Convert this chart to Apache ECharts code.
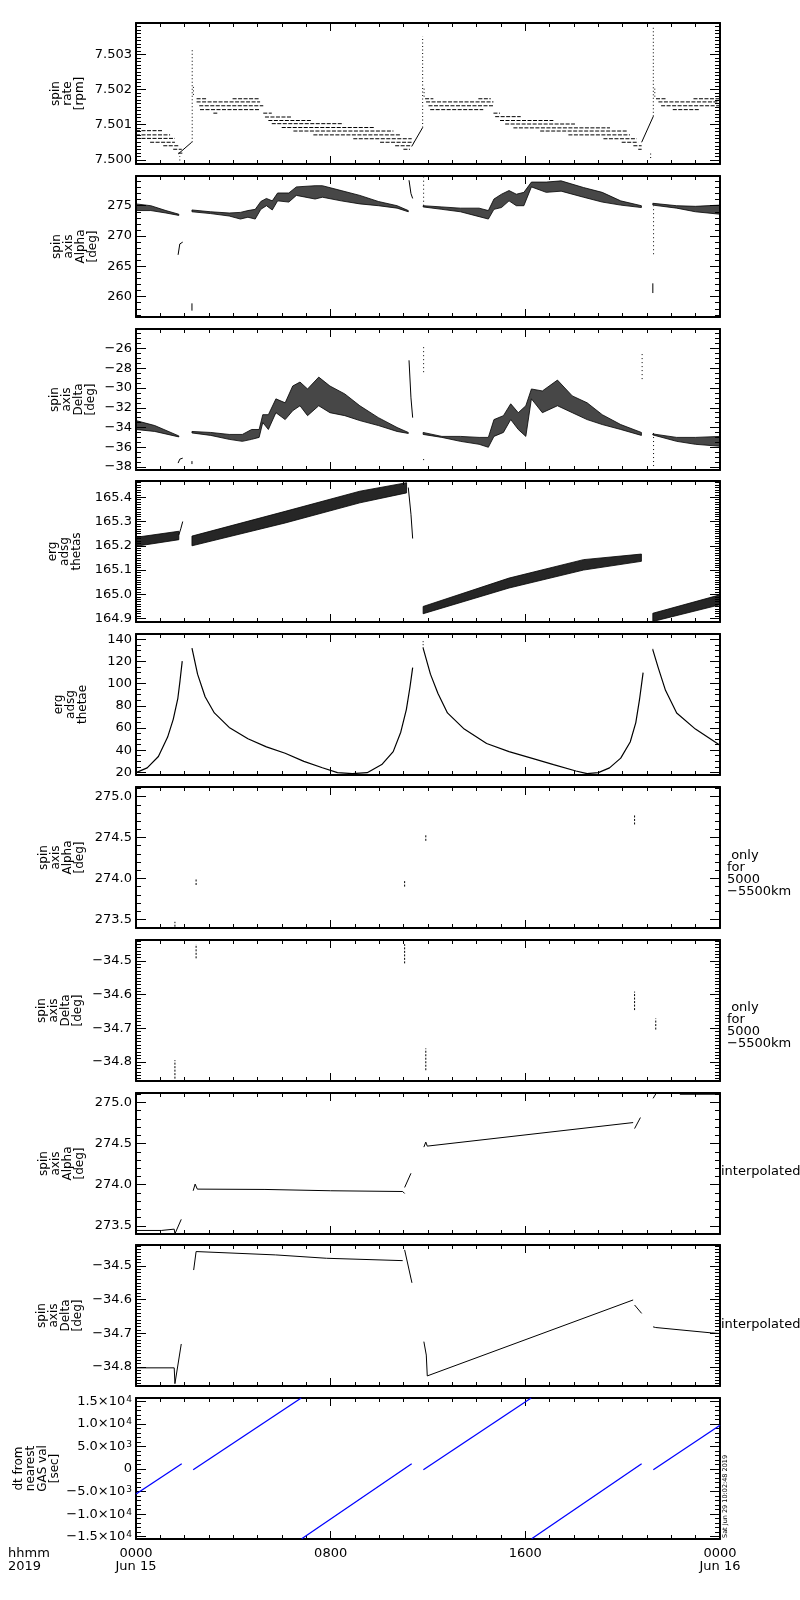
<!DOCTYPE html>
<html>
<head>
<meta charset="utf-8">
<title>ERG spin axis, 2019 Jun 15</title>
<script src="https://cdn.jsdelivr.net/npm/echarts@6.0.0/dist/echarts.min.js"></script>
<style>
    html, body { margin: 0; padding: 0; background: #fff; }
    #chart { width: 800px; height: 1600px; }
</style>
</head>
<body>
<div id="chart"></div>
<script>
const FONT = 'DejaVu Sans';

// x axis: hours since 2019-06-15 00:00
const hourTicks = [0, 8, 16, 24];
const hourLabels = ['0000\nJun 15', '0800', '1600', '0000\nJun 16'];

// panel 1: spin rate [rpm], quantised levels [hourFrom, hourTo, value]
const rateDashes = [
    [0, 1.12, 7.50083], [0, 1.40, 7.50071], [0, 1.60, 7.50061], [0.58, 1.60, 7.5005],
    [1.12, 1.74, 7.5004], [1.53, 1.88, 7.5003], [1.74, 1.92, 7.50019],
    [2.49, 2.88, 7.50174], [3.97, 5.10, 7.50174], [2.49, 5.10, 7.50165], [2.60, 5.23, 7.50154],
    [2.63, 5.10, 7.50143], [3.18, 3.34, 7.50133], [5.23, 5.58, 7.50133], [5.30, 6.40, 7.50122],
    [5.44, 7.22, 7.50112], [5.58, 8.52, 7.50103], [5.99, 9.82, 7.50092], [6.47, 10.58, 7.50082],
    [7.29, 10.85, 7.50071], [8.93, 11.33, 7.5006], [10.03, 11.40, 7.5005], [10.65, 11.33, 7.5004],
    [10.99, 11.26, 7.5003],
    [11.88, 12.22, 7.50174], [14.07, 14.58, 7.50174], [11.92, 14.69, 7.50165], [12.02, 14.69, 7.50154],
    [12.09, 14.27, 7.50143], [14.69, 14.96, 7.50133], [14.76, 15.81, 7.50123], [14.96, 17.15, 7.50112],
    [15.17, 18.04, 7.50102], [15.51, 19.48, 7.50091], [16.61, 20.17, 7.50082], [17.77, 20.30, 7.50071],
    [19.21, 20.58, 7.5006], [19.96, 20.64, 7.5005], [20.44, 20.78, 7.5004], [20.64, 20.78, 7.5003],
    [21.37, 21.81, 7.50174], [22.91, 24, 7.50174], [21.47, 24, 7.50165], [21.58, 24, 7.50154],
    [22.06, 23.18, 7.50143]
];
const rateRamps = [
    [[1.74, 7.50017], [2.29, 7.5005]],
    [[11.33, 7.50038], [11.78, 7.50092]],
    [[20.78, 7.5005], [21.26, 7.50124]]
];
const rateSpikes = [
    [1.80, 7.49998, 1.80, 7.5001], [2.31, 7.5005, 2.31, 7.50319], [2.36, 7.50185, 2.36, 7.50215],
    [11.78, 7.50092, 11.78, 7.50352], [11.84, 7.5018, 11.84, 7.5021],
    [21.15, 7.50005, 21.15, 7.5002], [21.26, 7.50124, 21.26, 7.50381], [21.32, 7.5018, 21.32, 7.5021]
];

// panel 2: spin axis alpha [deg], scatter bands [hour, low, high]
const alphaBandA = [[0, 274.2, 275.3], [0.61, 274.2, 275.0], [1.23, 273.8, 274.2], [1.76, 273.4, 273.6]];
const alphaBandB = [
    [2.3, 274.0, 274.3], [3.07, 273.7, 274.0], [3.83, 273.3, 273.8], [4.29, 272.8, 273.9],
    [4.6, 273.1, 274.2], [4.9, 272.8, 274.4], [5.13, 274.4, 275.7], [5.36, 275.0, 276.2],
    [5.6, 274.3, 275.8], [5.82, 275.8, 277.1], [6.28, 275.6, 277.1], [6.59, 276.7, 278.1],
    [7.36, 276.1, 278.3], [7.66, 276.4, 278.3], [8.43, 275.8, 277.5], [9.2, 275.3, 276.7],
    [9.96, 275.0, 275.7], [10.73, 274.6, 275.0], [11.19, 274.0, 274.2]
];
const alphaBandC = [
    [11.8, 274.8, 275.0], [12.57, 274.4, 274.8], [13.33, 274.0, 274.6], [14.1, 273.2, 274.6],
    [14.48, 272.8, 274.2], [14.71, 274.4, 276.1], [15.02, 274.7, 276.9], [15.33, 275.8, 277.5],
    [15.63, 275.0, 276.9], [15.94, 275.0, 277.2], [16.25, 278.1, 278.9], [16.86, 277.2, 278.9],
    [17.47, 277.4, 279.1], [18.39, 276.4, 278.0], [19.16, 275.6, 277.2], [19.92, 275.1, 275.8],
    [20.77, 274.7, 275.0]
];
const alphaBandD = [[21.24, 275.1, 275.4], [22.22, 274.6, 275.0], [22.99, 274.0, 274.9], [24, 273.6, 275.1]];
const alphaLines = [
    [[1.73, 266.9], [1.8, 268.7], [1.92, 269.0]],
    [[11.22, 279.2], [11.3, 277.0], [11.37, 276.2]]
];
const alphaSegs = [[2.3, 257.7, 2.3, 258.9], [21.24, 260.6, 21.24, 262.2]];
const alphaDots = [[11.82, 275.0, 11.82, 279.7], [21.27, 267.0, 21.27, 275.0]];

// panel 3: spin axis delta [deg]
const deltaBandA = [[0, -34.2, -33.3], [0.77, -34.4, -33.8], [1.76, -34.95, -34.85]];
const deltaBandB = [
    [2.3, -34.55, -34.4], [3.07, -34.8, -34.5], [3.83, -35.2, -34.7], [4.37, -35.4, -34.7],
    [4.75, -35.2, -34.2], [5.06, -35.0, -34.2], [5.21, -33.5, -32.7], [5.44, -34.2, -32.7],
    [5.75, -32.5, -31.1], [6.13, -33.2, -31.5], [6.44, -32.3, -29.8], [6.74, -31.8, -29.4],
    [7.05, -32.8, -30.1], [7.51, -31.8, -28.9], [7.97, -32.5, -29.8], [8.58, -32.8, -30.6],
    [9.2, -33.3, -31.8], [9.96, -33.8, -33.0], [10.73, -34.4, -34.0], [11.19, -34.6, -34.5]
];
const deltaBandC = [
    [11.8, -34.7, -34.5], [12.57, -35.0, -34.9], [13.33, -35.4, -34.9], [14.1, -35.7, -35.0],
    [14.48, -36.0, -35.0], [14.71, -34.9, -33.2], [15.1, -34.5, -32.8], [15.4, -33.2, -31.6],
    [15.71, -34.2, -32.5], [16.02, -34.9, -31.8], [16.25, -31.1, -30.1], [16.7, -32.5, -30.3],
    [17.32, -31.8, -29.2], [17.93, -32.5, -30.8], [18.54, -33.2, -31.5], [19.16, -33.7, -32.7],
    [19.92, -34.2, -33.7], [20.77, -34.8, -34.5]
];
const deltaBandD = [[21.24, -34.75, -34.65], [22.22, -35.4, -35.0], [22.99, -35.7, -35.0], [24, -35.9, -34.9]];
const deltaLines = [
    [[1.73, -37.6], [1.8, -37.2], [1.92, -37.1]],
    [[11.22, -27.2], [11.3, -31.0], [11.37, -33.0]]
];
const deltaSegs = [[2.3, -37.7, 2.3, -37.4]];
const deltaDots = [
    [11.82, -28.4, 11.82, -25.8], [11.82, -37.3, 11.82, -37.0],
    [20.8, -29.1, 20.8, -26.3], [21.27, -37.9, 21.27, -34.5]
];

// panel 4: erg adsg thetas
const thetasBandA = [[0, 165.198, 165.235], [1.76, 165.225, 165.26]];
const thetasBandB = [[2.3, 165.2, 165.24], [6.13, 165.294, 165.342], [9.2, 165.377, 165.425], [11.12, 165.418, 165.46]];
const thetasBandC = [[11.8, 164.92, 164.95], [15.33, 165.026, 165.067], [18.39, 165.1, 165.143], [20.77, 165.136, 165.166]];
const thetasBandD = [[21.24, 164.888, 164.922], [24, 164.957, 164.998]];
const thetasLines = [
    [[1.76, 165.245], [1.84, 165.27], [1.92, 165.3]],
    [[11.19, 165.44], [11.3, 165.33], [11.37, 165.23]]
];

// panel 5: erg adsg thetae
const thetaeLines = [
    [[0, 19.7], [0.46, 24], [0.92, 34.3], [1.3, 51.8], [1.53, 67.8], [1.72, 86.8], [1.81, 102.8], [1.9, 120.3]],
    [[2.3, 132], [2.53, 108.6], [2.84, 88.2], [3.22, 73.6], [3.83, 60.5], [4.6, 50.3], [5.36, 43],
        [6.13, 37.2], [6.9, 29.9], [7.66, 24.1], [8.28, 19.7], [8.89, 18.8], [9.5, 19.7], [10.1, 27],
        [10.57, 38.7], [10.88, 56.2], [11.11, 76.6], [11.26, 97], [11.37, 114.5]],
    [[11.8, 132], [12.1, 108.6], [12.41, 91.1], [12.8, 73.6], [13.49, 59], [14.41, 46], [15.33, 38.7],
        [16.25, 32.8], [17.16, 27], [18.08, 21.2], [18.54, 18.8], [19, 19.7], [19.46, 24], [19.92, 32.8],
        [20.31, 47.4], [20.54, 64.9], [20.69, 85.3], [20.84, 110]],
    [[21.24, 130.5], [21.46, 114.5], [21.76, 94], [22.22, 73.6], [22.99, 59], [24, 44.5]]
];
const thetaeDots = [[11.8, 132, 11.8, 139], [21.24, 130.5, 21.24, 133]];

// panels 6 and 7: only for 5000-5500 km
const alphaNearMarks = [
    [1.6, 273.41, 1.6, 273.47], [2.47, 273.92, 2.47, 274.0], [11.04, 273.9, 11.04, 273.98],
    [11.91, 274.46, 11.91, 274.54], [20.49, 274.66, 20.49, 274.77]
];
const deltaNearMarks = [
    [1.6, -34.85, 1.6, -34.795], [2.47, -34.492, 2.47, -34.45], [11.04, -34.507, 11.04, -34.45],
    [11.91, -34.825, 11.91, -34.76], [20.49, -34.646, 20.49, -34.591], [21.36, -34.704, 21.36, -34.671]
];

// panels 8 and 9: interpolated
const alphaInterp = [
    [[0, 273.445], [1.04, 273.445], [1.05, 273.461], [1.57, 273.461], [1.6, 273.404], [1.86, 273.58]],
    [[2.35, 273.927], [2.43, 274.008], [2.52, 273.947], [2.6, 273.943], [5.3, 273.943], [8.0, 273.927],
        [10.96, 273.918], [11.04, 273.894]],
    [[11.04, 273.967], [11.3, 274.139]],
    [[11.83, 274.457], [11.91, 274.518], [11.97, 274.469], [20.43, 274.755]],
    [[20.49, 274.682], [20.73, 274.816]],
    [[21.25, 275.049], [21.36, 275.102]],
    [[22.35, 275.105], [24, 275.105]]
];
const deltaInterp = [
    [[0, -34.803], [1.57, -34.803], [1.6, -34.85], [1.86, -34.732]],
    [[2.37, -34.512], [2.47, -34.457], [2.52, -34.46], [5.74, -34.467], [7.83, -34.477], [10.96, -34.484]],
    [[11.04, -34.452], [11.34, -34.55]],
    [[11.83, -34.725], [11.93, -34.765], [11.97, -34.827], [20.43, -34.601]],
    [[20.49, -34.616], [20.78, -34.641]],
    [[21.25, -34.681], [21.36, -34.683], [23.65, -34.699], [24, -34.701]]
];

// panel 10: dt from nearest GAS value [sec]
const dtLines = [
    [[0, -5530], [1.88, 1170]],
    [[2.35, -150], [6.79, 15750]],
    [[6.81, -15450], [11.33, 1170]],
    [[11.81, -150], [16.24, 15750]],
    [[16.26, -15450], [20.78, 1170]],
    [[21.26, -150], [24, 9700]]
];

// axis ranges per panel
const yNames = [
    'spin\nrate\n[rpm]', 'spin\naxis\nAlpha\n[deg]', 'spin\naxis\nDelta\n[deg]',
    'erg\nadsg\nthetas', 'erg\nadsg\nthetae', 'spin\naxis\nAlpha\n[deg]', 'spin\naxis\nDelta\n[deg]',
    'spin\naxis\nAlpha\n[deg]', 'spin\naxis\nDelta\n[deg]', 'dt from\nnearest\nGAS val\n[sec]'
];
const yMin = [7.49988, 256.65, -38.3, 164.886, 17.6, 273.394, -34.857, 273.402, -34.857, -15500];
const yMax = [7.5039, 279.9, -24.03, 165.467, 144.8, 275.118, -34.4375, 275.114, -34.4375, 15750];
const yStep = [0.001, 5, 2, 0.1, 20, 0.5, 0.1, 0.5, 0.1, 5000];
const yMinor = [10, 5, 4, 10, 4, 5, 10, 5, 10, 5];
const yDigits = [3, 0, 0, 1, 0, 1, 1, 1, 1, 0];

const panelTops = [23, 176, 329, 481, 634, 787, 940, 1093, 1245, 1398];
const PANEL_H = 141;
const nameGaps = [50, 37, 39, 53, 47, 50, 52, 50, 52, 75];

const chart = echarts.init(document.getElementById('chart'));
chart.setOption({
    animation: false,
    backgroundColor: '#fff',
    grid: panelTops.map((top) => ({ left: 136, right: 80, top: top, height: PANEL_H })),
    xAxis: buildXAxes(),
    yAxis: buildYAxes(),
    series: buildSeries(),
    graphic: buildTexts()
});

function buildXAxes() {
    const list = [];
    panelTops.forEach((top, i) => {
        const last = i === panelTops.length - 1;
        ['bottom', 'top'].forEach((pos) => {
            list.push({
                type: 'value',
                gridIndex: i,
                position: pos,
                min: 0,
                max: 24,
                interval: 8,
                axisLine: { onZero: false, lineStyle: { color: '#000', width: 2 } },
                axisTick: { inside: true, length: 8, lineStyle: { color: '#000', width: 1 } },
                minorTick: { show: true, splitNumber: 8, length: 4, lineStyle: { color: '#000', width: 1 } },
                splitLine: { show: false },
                minorSplitLine: { show: false },
                axisLabel: {
                    show: last && pos === 'bottom',
                    margin: 8,
                    color: '#000',
                    fontFamily: FONT,
                    fontSize: 13,
                    lineHeight: 13,
                    formatter: (v) => hourLabels[hourTicks.indexOf(v)] || ''
                }
            });
        });
    });
    return list;
}

function buildYAxes() {
    const list = [];
    panelTops.forEach((top, i) => {
        ['left', 'right'].forEach((pos) => {
            list.push({
                type: 'value',
                gridIndex: i,
                position: pos,
                min: yMin[i],
                max: yMax[i],
                minInterval: yStep[i],
                maxInterval: yStep[i],
                axisLine: { onZero: false, lineStyle: { color: '#000', width: 2 } },
                axisTick: { inside: true, length: 10, lineStyle: { color: '#000', width: 1 } },
                minorTick: { show: true, splitNumber: yMinor[i], length: 5, lineStyle: { color: '#000', width: 1 } },
                splitLine: { show: false },
                minorSplitLine: { show: false },
                axisLabel: {
                    show: pos === 'left',
                    margin: 4,
                    showMinLabel: false,
                    showMaxLabel: false,
                    color: '#000',
                    fontFamily: FONT,
                    fontSize: 13,
                    formatter: i === 9 ? fmtSci : (v) => fmtNum(v, yDigits[i]),
                    rich: {
                        sup: { fontFamily: FONT, fontSize: 9, color: '#000', verticalAlign: 'top', padding: [0, 0, 0, 1] }
                    }
                },
                name: pos === 'left' ? yNames[i] : '',
                nameLocation: 'middle',
                nameRotate: 90,
                nameGap: nameGaps[i],
                nameMoveOverlap: false,
                nameTextStyle: { color: '#000', fontFamily: FONT, fontSize: 12, lineHeight: 12 }
            });
        });
    });
    return list;
}

function buildSeries() {
    const s = [];
    // panel 1
    s.push(segSeries(0, rateDashes.map((d) => [d[0], d[2], d[1], d[2]]), [4, 1.5]));
    rateRamps.forEach((p) => s.push(lineSeries(0, p)));
    s.push(segSeries(0, rateSpikes, [1, 2.5]));
    // panel 2
    [alphaBandA, alphaBandB, alphaBandC, alphaBandD].forEach((b) => s.push(bandSeries(1, b, 0.72)));
    alphaLines.forEach((p) => s.push(lineSeries(1, p)));
    s.push(segSeries(1, alphaSegs, null));
    s.push(segSeries(1, alphaDots, [1, 3]));
    // panel 3
    [deltaBandA, deltaBandB, deltaBandC, deltaBandD].forEach((b) => s.push(bandSeries(2, b, 0.72)));
    deltaLines.forEach((p) => s.push(lineSeries(2, p)));
    s.push(segSeries(2, deltaSegs, null));
    s.push(segSeries(2, deltaDots, [1, 3]));
    // panel 4
    [thetasBandA, thetasBandB, thetasBandC, thetasBandD].forEach((b) => s.push(bandSeries(3, b, 0.85)));
    thetasLines.forEach((p) => s.push(lineSeries(3, p)));
    // panel 5
    thetaeLines.forEach((p) => s.push(lineSeries(4, p, '#000', 1.2)));
    s.push(segSeries(4, thetaeDots, [1, 2]));
    // panels 6, 7
    s.push(segSeries(5, alphaNearMarks, [2, 1.5]));
    s.push(segSeries(6, deltaNearMarks, [2, 1.5]));
    // panels 8, 9
    alphaInterp.forEach((p, k) => s.push(lineSeries(7, p, '#000', k === alphaInterp.length - 1 ? 2 : 1)));
    deltaInterp.forEach((p) => s.push(lineSeries(8, p)));
    // panel 10
    dtLines.forEach((p) => s.push(lineSeries(9, p, '#0000ff', 1.3)));
    return s;
}

function lineSeries(panel, points, color, width) {
    return {
        type: 'line',
        xAxisIndex: panel * 2,
        yAxisIndex: panel * 2,
        data: points,
        symbol: 'none',
        silent: true,
        clip: true,
        lineStyle: { color: color || '#000', width: width || 1 }
    };
}

function segSeries(panel, segs, dash) {
    return {
        type: 'custom',
        xAxisIndex: panel * 2,
        yAxisIndex: panel * 2,
        data: segs,
        encode: { x: [0, 2], y: [1, 3] },
        clip: true,
        silent: true,
        renderItem: (params, api) => {
            const a = api.coord([api.value(0), api.value(1)]);
            const b = api.coord([api.value(2), api.value(3)]);
            return {
                type: 'line',
                shape: { x1: a[0], y1: a[1], x2: b[0], y2: b[1] },
                style: { stroke: '#000', lineWidth: 1, lineDash: dash || null }
            };
        }
    };
}

function bandSeries(panel, band, alpha) {
    return {
        type: 'custom',
        xAxisIndex: panel * 2,
        yAxisIndex: panel * 2,
        data: band,
        encode: { x: 0, y: [1, 2] },
        clip: true,
        silent: true,
        renderItem: (params, api) => {
            if (params.dataIndex !== 0) return null;
            const upper = band.map((p) => api.coord([p[0], p[2]]));
            const lower = band.map((p) => api.coord([p[0], p[1]])).reverse();
            return {
                type: 'polygon',
                shape: { points: upper.concat(lower) },
                style: { fill: 'rgba(0,0,0,' + alpha + ')', stroke: '#000', lineWidth: 0.8 }
            };
        }
    };
}

function buildTexts() {
    const base = { fill: '#000', fontFamily: FONT, fontSize: 13 };
    return [
        { type: 'text', x: 8, y: 1547, style: Object.assign({ text: 'hhmm\n2019', lineHeight: 13, align: 'left', verticalAlign: 'top' }, base) },
        { type: 'text', x: 727, y: 849, style: Object.assign({ text: ' only\nfor\n5000\n\u22125500km', lineHeight: 12.3, align: 'left', verticalAlign: 'top' }, base) },
        { type: 'text', x: 727, y: 1001, style: Object.assign({ text: ' only\nfor\n5000\n\u22125500km', lineHeight: 12.3, align: 'left', verticalAlign: 'top' }, base) },
        { type: 'text', x: 721, y: 1172, style: Object.assign({ text: 'interpolated', align: 'left', verticalAlign: 'middle' }, base) },
        { type: 'text', x: 721, y: 1325, style: Object.assign({ text: 'interpolated', align: 'left', verticalAlign: 'middle' }, base) },
        {
            type: 'text', x: 725, y: 1538, rotation: Math.PI / 2,
            style: { text: 'Sat Jun 29 10:02:48 2019', fill: '#000', fontFamily: FONT, fontSize: 6.5, align: 'left', verticalAlign: 'middle' }
        }
    ];
}

function fmtNum(v, digits) {
    const s = Math.abs(v).toFixed(digits);
    return (v < 0 && Number(s) !== 0 ? '\u2212' : '') + s;
}

function fmtSci(v) {
    if (Math.abs(v) < 1e-6) return '0';
    const a = Math.abs(v);
    const e = Math.floor(Math.log10(a) + 1e-9);
    const m = a / Math.pow(10, e);
    return (v < 0 ? '\u2212' : '') + m.toFixed(1) + '\u00d710{sup|' + e + '}';
}
</script>
</body>
</html>
